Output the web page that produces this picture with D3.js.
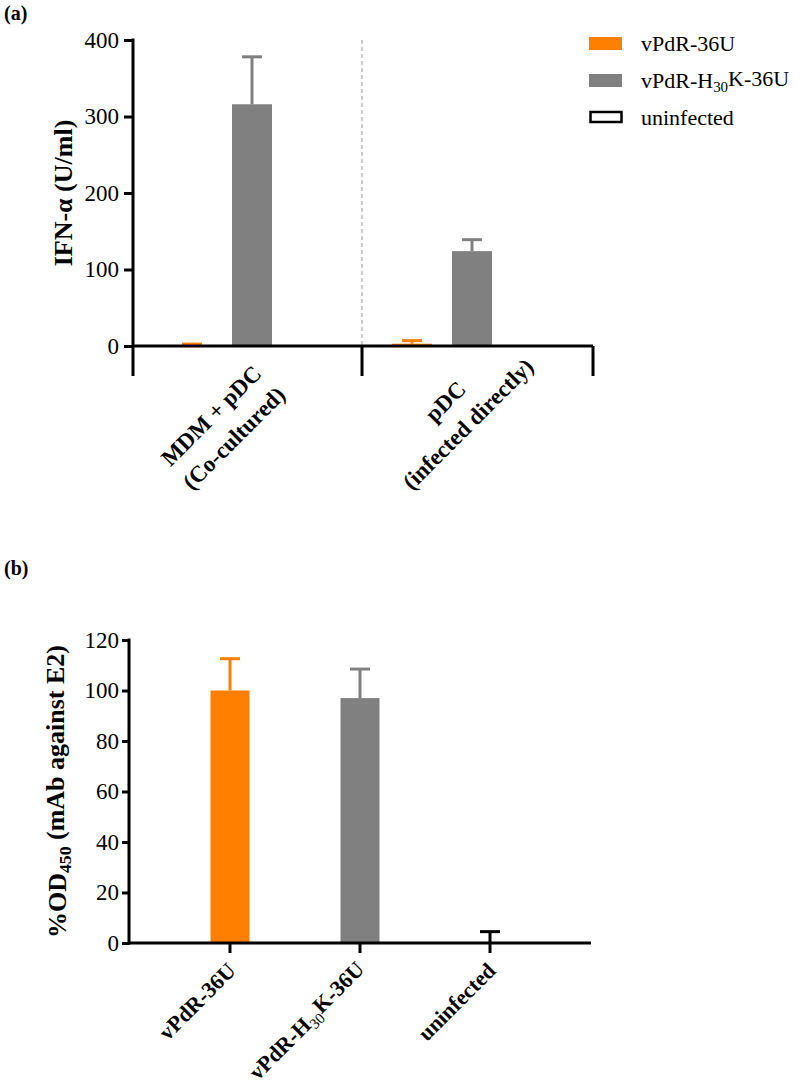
<!DOCTYPE html>
<html>
<head>
<meta charset="utf-8">
<script src="https://cdn.jsdelivr.net/npm/d3@7"></script>
<style>
  html, body { margin: 0; padding: 0; background: #fff; }
  svg { display: block; }
  text { font-family: "Liberation Serif", "Times New Roman", "DejaVu Serif", serif; }
</style>
</head>
<body>
<svg id="chart" width="800" height="1092"></svg>
<script>
// ---------- Data ----------
// Panel (a)
const groupsA = [["MDM + pDC", "(Co-cultured)"], ["pDC", "(infected directly)"]];
const seriesNames = ["vPdR-36U", "vPdR-H30K-36U", "uninfected"];
const orangeA = [1, 3];
const orangeAErr = [1.5, 4];
const grayA = [316, 124];
const grayAErr = [62, 15];
const yTicksA = [0, 100, 200, 300, 400];

// Panel (b)
const categoriesB = ["vPdR-36U", "vPdR-H30K-36U", "uninfected"];
const valuesB = [100, 97, 0];
const errB = [12.6, 11.5, 4.5];
const yTicksB = [0, 20, 40, 60, 80, 100, 120];

const ORANGE = "#FF8000";
const GRAY = "#808080";
const seriesColors = [ORANGE, GRAY, "#000"];

const svg = d3.select("#chart");

// helper: label with subscript "30"
function richLabel(sel, name) {
  if (name.includes("H30K")) {
    const [pre, post] = name.split("H30K");
    sel.append("tspan").text(pre + "H");
    sel.append("tspan").text("30").attr("font-size", "0.68em").attr("dy", "0.3em").attr("font-weight", "normal");
    sel.append("tspan").text("K" + post).attr("dy", "-0.3em");
  } else {
    sel.text(name);
  }
}

// ---------- Panel (a) ----------
svg.append("text").attr("x", 4).attr("y", 20).attr("font-size", 20).attr("font-weight", "bold").text("(a)");

const xA = d3.scaleBand().domain(d3.range(groupsA.length)).range([142, 582]).padding(0);
const yA = d3.scaleLinear().domain([0, 400]).range([346, 40]);
const inner = d3.scaleBand().domain(seriesNames).range([-90, 90]).paddingInner(0.5).paddingOuter(0.25);
const barW = inner.bandwidth();
const axisLeftX = 133, axisRightX = 593;

const gA = svg.append("g");

// dashed divider
const divX = xA(1);
gA.append("line").attr("x1", divX).attr("x2", divX).attr("y1", yA(400)).attr("y2", yA(0))
  .attr("stroke", "#999").attr("stroke-width", 1).attr("stroke-dasharray", "4,3");

// bars
const barsA = [];
groupsA.forEach((g, i) => {
  const c = xA(i) + xA.bandwidth() / 2;
  barsA.push({c: c + inner(seriesNames[0]) + barW / 2, v: orangeA[i], e: orangeAErr[i], col: ORANGE});
  barsA.push({c: c + inner(seriesNames[1]) + barW / 2, v: grayA[i], e: grayAErr[i], col: GRAY});
});
gA.selectAll("rect.bar").data(barsA).join("rect")
  .attr("x", d => d.c - 20).attr("width", 40)
  .attr("y", d => yA(d.v)).attr("height", d => yA(0) - yA(d.v))
  .attr("fill", d => d.col);
gA.selectAll("line.err").data(barsA).join("line")
  .attr("x1", d => d.c).attr("x2", d => d.c)
  .attr("y1", d => yA(d.v)).attr("y2", d => yA(d.v + d.e))
  .attr("stroke", d => d.col).attr("stroke-width", 3);
gA.selectAll("line.cap").data(barsA).join("line")
  .attr("x1", d => d.c - 10).attr("x2", d => d.c + 10)
  .attr("y1", d => yA(d.v + d.e)).attr("y2", d => yA(d.v + d.e))
  .attr("stroke", d => d.col).attr("stroke-width", 3);

// y axis
const yAxisA = d3.axisLeft(yA).tickValues(yTicksA).tickSize(9).tickPadding(5);
const yaG = gA.append("g").attr("transform", `translate(${axisLeftX},0)`).call(yAxisA);
yaG.select(".domain").remove();
yaG.selectAll(".tick line").attr("stroke", "#000").attr("stroke-width", 3);
yaG.selectAll(".tick text").attr("font-size", 23).attr("fill", "#000")
  .style("font-family", '"Liberation Serif", "Times New Roman", serif');
gA.append("line").attr("x1", axisLeftX).attr("x2", axisLeftX).attr("y1", yA(400) - 1.5).attr("y2", 376)
  .attr("stroke", "#000").attr("stroke-width", 3);
// x axis
gA.append("line").attr("x1", axisLeftX).attr("x2", axisRightX).attr("y1", yA(0)).attr("y2", yA(0))
  .attr("stroke", "#000").attr("stroke-width", 3);
[divX, axisRightX].forEach(x => {
  gA.append("line").attr("x1", x).attr("x2", x).attr("y1", yA(0)).attr("y2", 376)
    .attr("stroke", "#000").attr("stroke-width", 3);
});

// x labels (rotated, two lines centered)
groupsA.forEach((lines, i) => {
  const c = xA(i) + xA.bandwidth() / 2;
  const lg = gA.append("g").attr("transform", `translate(${c - 60},491) rotate(-45)`);
  const texts = lines.map((t, j) => lg.append("text")
    .attr("font-size", 23).attr("font-weight", "bold")
    .attr("y", (j - (lines.length - 1)) * 32).text(t));
  const W = d3.max(texts, t => t.node().getComputedTextLength());
  texts.forEach(t => t.attr("x", W / 2).attr("text-anchor", "middle"));
});

// y label
svg.append("text").attr("transform", `translate(72,${(yA(0) + yA(400)) / 2}) rotate(-90)`)
  .attr("text-anchor", "middle").attr("font-size", 26).attr("font-weight", "bold")
  .text("IFN-α (U/ml)");

// legend
const leg = svg.append("g");
seriesNames.forEach((s, i) => {
  const yy = 37 + i * 37;
  if (i < 2) {
    leg.append("rect").attr("x", 589).attr("y", yy).attr("width", 33).attr("height", 13).attr("fill", seriesColors[i]);
  } else {
    leg.append("rect").attr("x", 590.5).attr("y", yy + 1).attr("width", 31).attr("height", 10)
      .attr("fill", "none").attr("stroke", "#000").attr("stroke-width", 2.5);
  }
  const t = leg.append("text").attr("x", 641).attr("y", yy + 14).attr("font-size", 22);
  richLabel(t, s);
});

// ---------- Panel (b) ----------
svg.append("text").attr("x", 4).attr("y", 575).attr("font-size", 20).attr("font-weight", "bold").text("(b)");

const xB = d3.scaleBand().domain(categoriesB).range([165, 555]);
const yB = d3.scaleLinear().domain([0, 120]).range([943, 640]);
const gB = svg.append("g");
const colsB = [ORANGE, GRAY, "#000"];
const dataB = categoriesB.map((c, i) => ({c: xB(c) + xB.bandwidth() / 2, v: valuesB[i], e: errB[i], col: colsB[i], name: c}));

gB.selectAll("rect.bar").data(dataB).join("rect")
  .attr("x", d => d.c - 19.5).attr("width", 39)
  .attr("y", d => yB(d.v)).attr("height", d => yB(0) - yB(d.v))
  .attr("fill", d => d.col);
gB.selectAll("line.err").data(dataB).join("line")
  .attr("x1", d => d.c).attr("x2", d => d.c)
  .attr("y1", d => yB(d.v)).attr("y2", d => yB(d.v + d.e))
  .attr("stroke", d => d.col).attr("stroke-width", 3);
gB.selectAll("line.cap").data(dataB).join("line")
  .attr("x1", d => d.c - 10).attr("x2", d => d.c + 10)
  .attr("y1", d => yB(d.v + d.e)).attr("y2", d => yB(d.v + d.e))
  .attr("stroke", d => d.col).attr("stroke-width", 3);

const yAxisB = d3.axisLeft(yB).tickValues(yTicksB).tickSize(7).tickPadding(3);
const ybG = gB.append("g").attr("transform", "translate(129,0)").call(yAxisB);
ybG.select(".domain").remove();
ybG.selectAll(".tick line").attr("stroke", "#000").attr("stroke-width", 3);
ybG.selectAll(".tick text").attr("font-size", 23).attr("fill", "#000")
  .style("font-family", '"Liberation Serif", "Times New Roman", serif');
gB.append("line").attr("x1", 129).attr("x2", 129).attr("y1", yB(120) - 1.5).attr("y2", yB(0) + 1.5)
  .attr("stroke", "#000").attr("stroke-width", 3);

const xAxisB = d3.axisBottom(xB).tickSize(10).tickFormat("");
const xbG = gB.append("g").attr("transform", `translate(0,${yB(0)})`).call(xAxisB);
xbG.select(".domain").remove();
xbG.selectAll(".tick line").attr("stroke", "#000").attr("stroke-width", 3);
gB.append("line").attr("x1", 129).attr("x2", 591).attr("y1", yB(0)).attr("y2", yB(0))
  .attr("stroke", "#000").attr("stroke-width", 3);

dataB.forEach(d => {
  const t = gB.append("text").attr("transform", `translate(${d.c + 7},972) rotate(-45)`)
    .attr("text-anchor", "end").attr("font-size", 22).attr("font-weight", "bold");
  richLabel(t, d.name);
});

// y label b
const ylb = svg.append("text").attr("transform", `translate(66,${(yB(0) + yB(120)) / 2}) rotate(-90)`)
  .attr("text-anchor", "middle").attr("font-size", 26).attr("font-weight", "bold");
ylb.append("tspan").text("%OD");
ylb.append("tspan").text("450").attr("font-size", "0.68em").attr("dy", "0.3em");
ylb.append("tspan").text(" (mAb against E2)").attr("dy", "-0.3em");
</script>
</body>
</html>
